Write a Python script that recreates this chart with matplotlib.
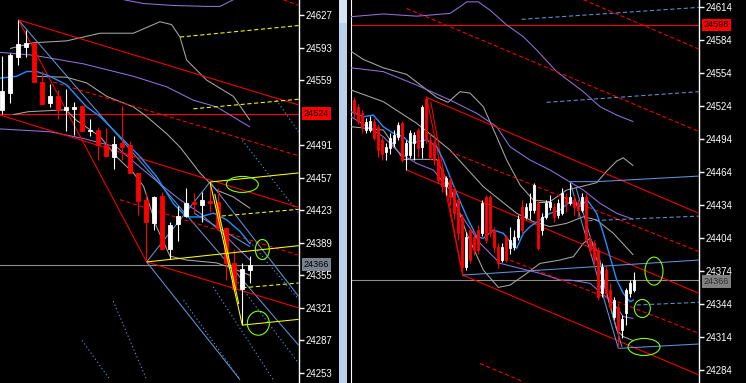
import matplotlib
matplotlib.use("Agg")
import matplotlib.pyplot as plt
from matplotlib.patches import Ellipse, Rectangle

# ---------------- LEFT PANEL DATA ----------------
L_open  = [24528,24546,24583,24594,24598,24557,24535,24542,24528,24529,24532,24506,24507,24491,24479,24493,
           24491,24462,24434,24410,24438,24382,24409,24417,24432,24428,24433,24432,24404,24368,24341,24361]
L_high  = [24584,24587,24622,24611,24599,24569,24555,24549,24550,24536,24533,24518,24510,24509,24501,24532,
           24495,24462,24441,24438,24442,24411,24427,24446,24441,24442,24453,24446,24405,24383,24368,24375]
L_low   = [24524,24535,24575,24583,24557,24534,24531,24518,24506,24502,24506,24501,24476,24479,24466,24476,
           24462,24418,24370,24402,24381,24372,24391,24416,24420,24411,24421,24402,24350,24340,24303,24347]
L_close = [24548,24585,24597,24598,24557,24534,24542,24528,24531,24531,24506,24507,24491,24480,24492,24489,
           24462,24433,24411,24437,24383,24408,24417,24431,24430,24434,24431,24404,24368,24341,24362,24366]
L_ticks = [24627,24593,24559,24491,24457,24423,24389,24355,24321,24287,24253]
L_marker_price = 24524
L_last_price = 24366

# lines: (x in bar index, price)
L_red_solid = [
    ([2.04, 37.08], [24622, 24533]),
    ([-0.25, 37.08], [24522.5, 24426]),
    ([18.08, 37.08], [24369, 24321]),
    ([2.04, 18.08], [24622, 24369]),
]
L_red_dash = [
    ([6.4, 37.08], [24557, 24480]),
    ([14.75, 37.08], [24434, 24376]),
    ([35.2, 37.08], [24643, 24637]),
]
L_yellow_solid = [
    ([18.08, 37.08], [24369, 24386]),
    ([26.0, 37.08], [24452.5, 24462]),
    ([30.04, 37.08], [24303, 24309]),
    ([26.0, 30.04], [24452.5, 24303]),
    ([26.6, 29.6], [24440, 24325]),
]
L_yellow_dash = [
    ([22.25, 37.08], [24604, 24616]),
    ([23.92, 37.08], [24529, 24539]),
    ([27.46, 37.08], [24417, 24424]),
    ([30.04, 37.08], [24342, 24347]),
]
L_lblue_solid = [
    ([18.08, 26.0], [24369, 24452.5]),
    ([2.04, 37.08], [24622, 24282]),
    ([18.08, 29.75], [24369, 24246]),
    ([26.0, 37.08], [24452.5, 24333]),
    ([24.0, 31.0], [24420, 24385]),
]
L_lblue_dot = [
    ([30.04, 37.08], [24496, 24420]),
    ([34.3, 37.08], [24538, 24505]),
    ([13.9, 18.08], [24328, 24246]),
    ([10.0, 13.5], [24287, 24246]),
    ([22.7, 29.75], [24329, 24246]),
    ([26.4, 33.9], [24343, 24246]),
    ([28.9, 37.08], [24354, 24263]),
    ([31.0, 37.08], [24390, 24330]),
]
L_silver = [
    ([1.0, 3.92, 8.08, 12.25, 16.42, 19.75, 21.2, 22.25, 23.08, 25.58, 28.92, 31.0],
     [24592, 24598, 24600, 24608, 24608, 24620, 24617, 24604, 24580, 24559, 24542, 24517]),
    ([3.92, 8.08, 10.6, 13.1, 16.42, 18.08, 20.58, 22.25, 24.75, 26.83, 28.92, 31.0],
     [24563, 24562, 24556, 24542, 24531, 24521, 24503, 24489, 24462, 24444, 24437, 24425]),
    ([1.42, 3.3, 8.0, 9.3, 12.25, 14.3, 16.42, 17.7, 19.3, 21.0, 23.08, 26.83, 28.92, 31.0],
     [24523, 24526, 24528, 24517, 24500, 24479, 24462, 24448, 24406, 24375, 24371, 24368, 24362, 24355]),
]
L_purple = [
    ([15.2, 17.7, 21.4, 25.6, 27.25, 28.92], [24643, 24639, 24637, 24636, 24636, 24643]),
    ([-0.25, 3.92, 10.17, 16.42, 20.58, 23.92, 26.83, 31.0],
     [24588, 24585, 24576, 24563, 24552, 24538, 24531, 24510]),
    ([-0.25, 6.0, 10.17, 14.33, 17.67, 20.58, 22.25, 24.75, 28.08, 31.0],
     [24508, 24505, 24498, 24489, 24465, 24445, 24434, 24420, 24395, 24371]),
]
L_ma_x = [-0.25, 1.83, 3.08, 4.33, 6.0, 8.08, 10.58, 12.25, 14.75, 17.25, 19.33, 21.42, 23.08, 24.75, 26.42, 28.08, 29.75, 31.0]
L_ma_y = [24561, 24563, 24568, 24568, 24563, 24554, 24531, 24521, 24500, 24479, 24458, 24430, 24416, 24416, 24420, 24413, 24401, 24388]
L_ellipses = [(30.04, 24450, 4.0, 16.7), (32.54, 24382, 1.75, 20.9), (32.04, 24305, 2.75, 25.1)]

# ---------------- RIGHT PANEL DATA ----------------
R_open  = [24530,24523,24518,24502,24502,24510,24505,24493,24482,24486,24491,24496,24509,24480,24480,24491,
           24502,24487,24531,24493,24491,24475,24466,24451,24457,24448,24439,24423,24378,24411,24405,24411,
           24409,24441,24441,24411,24396,24384,24405,24395,24396,24405,24432,24423,24430,24430,24436,24411,
           24423,24432,24432,24425,24427,24441,24436,24439,24436,24430,24441,24402,24400,24393,24354,24375,
           24357,24332,24341,24320,24336,24354,24357]
R_high  = [24532,24526,24521,24513,24515,24513,24508,24496,24491,24500,24502,24510,24511,24493,24502,24501,
           24504,24525,24533,24500,24493,24478,24469,24461,24460,24451,24441,24426,24410,24414,24410,24416,
           24439,24443,24443,24414,24400,24400,24407,24414,24411,24425,24439,24436,24445,24454,24439,24427,
           24439,24443,24436,24440,24450,24445,24454,24443,24440,24445,24445,24407,24402,24396,24381,24380,
           24363,24350,24345,24334,24359,24366,24373]
R_low   = [24513,24508,24500,24500,24501,24493,24478,24475,24475,24481,24487,24493,24473,24466,24477,24475,
           24478,24477,24491,24475,24471,24454,24446,24443,24434,24421,24402,24370,24375,24381,24389,24390,
           24406,24400,24405,24391,24377,24382,24382,24390,24393,24402,24409,24421,24421,24427,24393,24407,
           24421,24430,24419,24422,24425,24428,24434,24425,24423,24428,24400,24389,24378,24348,24350,24350,
           24339,24330,24304,24313,24325,24350,24355]
R_close = [24518,24511,24505,24510,24511,24495,24484,24481,24487,24495,24498,24507,24475,24491,24500,24498,
           24486,24523,24493,24478,24475,24457,24451,24459,24441,24427,24409,24378,24405,24384,24393,24393,
           24436,24402,24409,24396,24381,24396,24384,24402,24405,24421,24411,24432,24436,24452,24395,24423,
           24436,24437,24423,24436,24445,24436,24441,24432,24430,24441,24402,24393,24384,24350,24378,24354,
           24341,24348,24320,24330,24357,24363,24366]
R_ticks = [24614,24584,24554,24524,24494,24464,24434,24404,24374,24344,24314,24284]
R_marker_price = 24598
R_last_price = 24366

R_red_solid = [
    ([18.17, 86.25], [24532, 24426.6]),
    ([13.17, 86.25], [24466, 24353.8]),
    ([27.17, 86.25], [24370.4, 24279.5]),
    ([18.17, 27.17], [24532, 24370.4]),
    ([19.2, 26.6], [24528, 24380]),
]
R_red_dash = [
    ([13.17, 86.25], [24613, 24501]),
    ([57.33, 86.25], [24621, 24576]),
    ([24.0, 86.25], [24482.7, 24391.7]),
    ([39.0, 86.25], [24384, 24317.4]),
    ([31.5, 42.3], [24290, 24273.4]),
]
R_blue_solid = [
    ([54.0, 60.7, 86.25], [24455.4, 24455.4, 24460.5]),
    ([27.17, 86.25], [24370.4, 24384.1]),
    ([66.08, 86.25], [24303.7, 24307.7]),
    ([54.0, 66.08], [24455.4, 24303.7]),
    ([55.5, 67.0], [24450, 24305]),
]
R_blue_dash = [
    ([41.9, 86.25], [24603.1, 24614]),
    ([48.17, 86.25], [24527.6, 24537.3]),
    ([58.6, 86.25], [24419.8, 24424.1]),
    ([70.67, 86.25], [24343.2, 24345.6]),
]
R_purple = [
    ([-0.75, 7.33, 15.67, 24.0, 26.5, 28.17, 31.08, 34.0, 38.17, 42.33, 45.67, 50.67, 57.33, 61.5, 65.67, 69.83],
     [24605.5, 24608, 24606, 24608.5, 24614.6, 24619, 24619, 24611.5, 24598, 24587.3, 24575.2, 24555.5, 24537.3, 24523.6, 24516, 24510]),
    ([-0.75, 7.33, 15.67, 24.0, 30.67, 35.67, 39.0, 44.0, 49.0, 53.17, 57.33, 61.5, 65.67, 69.83],
     [24559, 24555.5, 24543.3, 24529.7, 24517.6, 24505.4, 24487.2, 24475.1, 24466, 24456.9, 24447.8, 24435.7, 24426.6, 24421.1]),
    ([-0.75, 7.33, 11.5, 15.67, 19.83, 24.0, 26.5, 31.5, 36.5, 43.17, 46.5, 51.5, 54.0, 59.0, 64.83, 67.33, 69.83],
     [24514.5, 24496.3, 24481.1, 24472, 24466, 24447.8, 24426.6, 24399.4, 24381.1, 24375, 24372, 24365.9, 24365.9, 24362.9, 24344.7, 24332.6, 24331]),
]
R_silver = [
    ([-0.75, 2.33, 7.33, 13.17, 20.67, 23.5, 26.5, 29.0, 32.33, 35.67, 38.17, 41.5, 44.83, 49.0, 53.17, 57.33, 60.67, 63.17, 65.67, 67.33, 69.83],
     [24574, 24566.6, 24559, 24553, 24532.1, 24527.6, 24537.3, 24536, 24523.6, 24496.3, 24475.1, 24452.4, 24438.7, 24437.2, 24447.8, 24451.4, 24454.5, 24465, 24474.1, 24477.1, 24469.8]),
    ([-0.75, 7.33, 15.67, 24.0, 32.33, 40.67, 44.83, 49.0, 53.17, 57.33, 60.67, 64.83, 69.83],
     [24538.8, 24528.2, 24508.5, 24484.2, 24450.8, 24426.6, 24419, 24414.5, 24417.5, 24423.5, 24420.5, 24408.4, 24388.7]),
    ([-0.75, 7.33, 12.33, 20.67, 24.0, 28.17, 32.33, 36.08, 39.0, 43.17, 46.5, 51.5, 54.83, 57.33, 59.0, 61.1, 63.17, 65.67, 67.33, 69.83],
     [24505.4, 24502.4, 24475.7, 24475.7, 24450.8, 24408.4, 24375, 24359.2, 24361.3, 24371.9, 24381, 24384.1, 24387.1, 24399.3, 24403.8, 24390.2, 24353.8, 24320.4, 24314.4, 24310.7]),
    ([45.67, 49.0], [24437.2, 24437.2]),
]
R_ma_x = [-0.75, 2.33, 4.83, 7.33, 9.83, 12.33, 14.0, 15.67, 18.17, 20.67, 22.33, 24.0, 25.67, 28.17, 30.67, 32.33, 34.83, 37.33, 39.0, 40.67, 42.33, 44.0, 46.5, 49.0, 51.5, 54.0, 56.5, 58.33, 60.67, 62.33, 64.0, 65.67, 67.33, 69.0, 69.83]
R_ma_y = [24519, 24514.5, 24516, 24505.4, 24499.4, 24496.3, 24490.3, 24491.8, 24493.3, 24487.2, 24475.1, 24460, 24444.8, 24423.5, 24405.4, 24403.8, 24411.4, 24408.4, 24400.8, 24394.7, 24408.4, 24414.5, 24420.5, 24426.6, 24429.6, 24437.2, 24432.7, 24438.7, 24426.6, 24408.4, 24387.1, 24366, 24353.8, 24346.2, 24347.7]
R_ellipses = [(75.0, 24374, 4.5, 25.5), (72.08, 24340, 4.0, 16.4), (72.5, 24305, 8.0, 15.5)]

# ---------------- STYLE ----------------
BG = "black"
RED = "#FF0000"
YEL = "#FFFF00"
SIL = "#A8A8A8"
PUR = "#9370DB"
MA = "#1E90FF"
LB = "#5F95D8"
GRN = "#7FFF00"
GRY = "#8C8C8C"
DASH = (0, (4, 2.5))
DOT = (0, (1.2, 2.4))
FONT = ["Liberation Sans", "DejaVu Sans"]
FS = 6.9
FS_MARK = 6.6

W, H = 746, 383
fig = plt.figure(figsize=(W / 100, H / 100), dpi=100, facecolor=BG)


def setup_axis(ax, xlim, ylim, ticks, left_spine):
    ax.set_facecolor(BG)
    ax.set_xlim(*xlim)
    ax.set_ylim(*ylim)
    for s in ["top", "bottom"]:
        ax.spines[s].set_visible(False)
    ax.spines["left"].set_visible(left_spine)
    ax.spines["left"].set_color("white")
    ax.spines["right"].set_color("white")
    ax.spines["right"].set_linewidth(1.0)
    ax.set_xticks([])
    ax.yaxis.tick_right()
    ax.set_yticks(ticks)
    ax.set_yticklabels([str(t) for t in ticks], family=FONT, fontsize=FS, color="white")
    ax.tick_params(axis="y", colors="white", length=3.5, width=1.0, pad=1.5, labelsize=FS)


def draw_candles(ax, o, h, l, c, width):
    for i in range(len(o)):
        col = "white" if c[i] >= o[i] else RED
        ax.vlines(i, l[i], h[i], color=col, lw=0.8, zorder=5)
        lo = min(o[i], c[i])
        ht = abs(c[i] - o[i])
        ax.bar(i, ht, width=width, bottom=lo, color=col, edgecolor=col, linewidth=0.6, zorder=6)


def draw_lines(ax, lines, color, ls="-", lw=0.75, z=3):
    for xs, ys in lines:
        ax.plot(xs, ys, color=color, ls=ls, lw=lw, zorder=z, solid_capstyle="butt")


def marker_label(ax, price, bg, fg, dy=0.0):
    ax.annotate(str(price), xy=(1.0, price), xycoords=("axes fraction", "data"),
                xytext=(3.3, dy), textcoords="offset points", va="center", ha="left",
                family=FONT, fontsize=FS_MARK, color=fg, zorder=20, annotation_clip=False,
                bbox=dict(boxstyle="square,pad=0.2", fc=bg, ec="none"))


# ---------------- LEFT PANEL ----------------
axL = fig.add_axes([0, 0, 299 / W, 1])
setup_axis(axL, (-0.25, 37.125), (24242.5, 24642.7), L_ticks, False)
axL.axhline(L_marker_price, color=RED, lw=0.8, zorder=2)
axL.axhline(L_last_price, color=GRY, lw=0.8, zorder=2)
draw_lines(axL, L_silver, SIL)
draw_lines(axL, L_purple, PUR)
draw_lines(axL, L_lblue_dot, LB, ls=DOT)
draw_lines(axL, L_lblue_solid, LB)
draw_lines(axL, L_red_dash, RED, ls=DASH)
draw_lines(axL, L_red_solid, RED)
draw_lines(axL, L_yellow_dash, YEL, ls=DASH)
draw_lines(axL, L_yellow_solid, YEL, z=7)
axL.plot(L_ma_x, L_ma_y, color=MA, lw=1.0, zorder=4)
draw_candles(axL, L_open, L_high, L_low, L_close, 0.62)
for cx, cy, ew, eh in L_ellipses:
    axL.add_patch(Ellipse((cx, cy), ew, eh, fill=False, ec=GRN, lw=0.8, zorder=8))
marker_label(axL, L_marker_price, RED, "black")
marker_label(axL, L_last_price, "#78828E", "black", dy=0.4)

# ---------------- RIGHT PANEL ----------------
axR = fig.add_axes([351 / W, 0, (699 - 351) / W, 1])
setup_axis(axR, (-0.75, 86.25), (24272.2, 24620.7), R_ticks, True)
axR.axhline(R_marker_price, color=RED, lw=0.8, zorder=2)
axR.axhline(R_last_price, color=GRY, lw=0.8, zorder=2)
draw_lines(axR, R_silver, SIL)
draw_lines(axR, R_purple, PUR)
draw_lines(axR, R_red_dash, RED, ls=DASH)
draw_lines(axR, R_red_solid, RED)
draw_lines(axR, R_blue_dash, LB, ls=DASH)
draw_lines(axR, R_blue_solid, LB)
axR.plot(R_ma_x, R_ma_y, color=MA, lw=1.0, zorder=4)
draw_candles(axR, R_open, R_high, R_low, R_close, 0.7)
for cx, cy, ew, eh in R_ellipses:
    axR.add_patch(Ellipse((cx, cy), ew, eh, fill=False, ec=GRN, lw=0.8, zorder=8))
marker_label(axR, R_marker_price, RED, "black")
marker_label(axR, R_last_price, "#808080", "#303030", dy=-1.0)

# scrollbar strip between panels
fig.patches.append(Rectangle((339 / W, 0), 8 / W, 1, transform=fig.transFigure,
                             fc="#B9D1EA", ec="none", zorder=1))
fig.patches.append(Rectangle((339 / W, 1 - 23 / H), 8 / W, 23 / H, transform=fig.transFigure,
                             fc="#D4E3F3", ec="none", zorder=2))

fig.savefig("out.png", dpi=100, facecolor=BG)
